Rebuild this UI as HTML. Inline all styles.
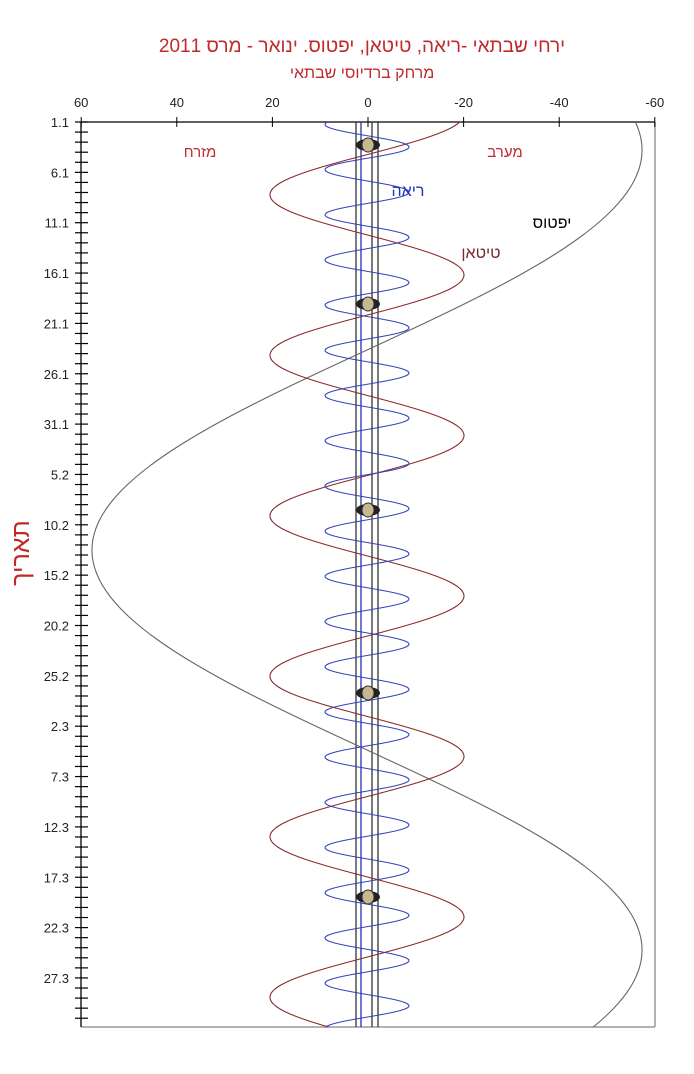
<!DOCTYPE html>
<html><head><meta charset="utf-8">
<style>
html,body{margin:0;padding:0;background:#fff;}
body{width:694px;height:1074px;position:relative;overflow:hidden;font-family:"Liberation Sans","DejaVu Sans",sans-serif;}
.t{position:absolute;left:0;width:724px;text-align:center;color:#c0282a;direction:rtl;}
</style></head>
<body>
<div class="t" style="top:36px;font-size:19px;">ירחי שבתאי -ריאה, טיטאן, יפטוס. ינואר - מרס 2011</div>
<div class="t" style="top:65px;font-size:16px;">מרחק ברדיוסי שבתאי</div>
<svg id="s" width="694" height="1074" style="position:absolute;left:0;top:0" xmlns="http://www.w3.org/2000/svg" font-family="Liberation Sans, DejaVu Sans, sans-serif">
</svg>
<script>
(function(){
var s=document.getElementById('s'),h='';
var L=81,R=655,T=122,B=1027,C=368,PX=4.78,DY=10.07;
// frame
h+='<line x1="'+R+'" y1="'+T+'" x2="'+R+'" y2="'+B+'" stroke="#999" stroke-width="1.5"/>';
h+='<line x1="'+L+'" y1="'+B+'" x2="'+R+'" y2="'+B+'" stroke="#999" stroke-width="1.5"/>';
h+='<line x1="'+L+'" y1="'+T+'" x2="'+R+'" y2="'+T+'" stroke="#000" stroke-width="1.3"/>';
h+='<line x1="'+L+'" y1="'+T+'" x2="'+L+'" y2="'+B+'" stroke="#000" stroke-width="1.3"/>';
// top ticks
var xv=[60,40,20,0,-20,-40,-60];
xv.forEach(function(v){var x=C-v*PX;
 h+='<line x1="'+x+'" y1="'+(T-5)+'" x2="'+x+'" y2="'+(T+5)+'" stroke="#000"/>';
 h+='<text x="'+x+'" y="'+(T-15)+'" font-size="13" text-anchor="middle" fill="#222">'+v+'</text>';});
// left ticks
for(var d=0;d<=89;d++){var y=T+d*DY;if(y>B)break;
 h+='<line x1="75" y1="'+y+'" x2="88" y2="'+y+'" stroke="#000" stroke-width="1.2"/>';}
var lab=['1.1','6.1','11.1','16.1','21.1','26.1','31.1','5.2','10.2','15.2','20.2','25.2','2.3','7.3','12.3','17.3','22.3','27.3'];
lab.forEach(function(t,i){var y=T+i*5*DY;
 h+='<text x="69" y="'+(y+5)+'" font-size="13" text-anchor="end" fill="#222">'+t+'</text>';});
// vertical lines
[[356,'#333'],[361,'#2233aa'],[372,'#333'],[378,'#333']].forEach(function(a){
 h+='<line x1="'+a[0]+'" y1="'+T+'" x2="'+a[0]+'" y2="'+B+'" stroke="'+a[1]+'" stroke-width="1.3"/>';});
function curve(f,col,w){var p='';for(var y=T;y<=B;y+=1){p+=(y==T?'M':'L')+f(y).toFixed(1)+' '+y;}
 return '<path d="'+p+'" fill="none" stroke="'+col+'" stroke-width="'+w+'"/>';}
h+=curve(function(y){return 367+275*Math.cos(2*Math.PI*(y-150)/800);},'#666',1.1);
h+=curve(function(y){return 367+97*Math.cos(2*Math.PI*(y-275)/160.5);},'#8b2a2a',1.1);
h+=curve(function(y){return 367+42*Math.cos(2*Math.PI*(y-147)/45.2);},'#3344bb',1.1);
// saturn icons
[145,304,510,693,897].forEach(function(y){
 h+='<ellipse cx="368" cy="'+y+'" rx="12" ry="6" fill="#222"/>';
 h+='<ellipse cx="368" cy="'+y+'" rx="6" ry="7" fill="#c8b890" stroke="#333" stroke-width="1"/>';});
// labels
h+='<text x="200" y="157" font-size="15" text-anchor="middle" fill="#c0282a">מזרח</text>';
h+='<text x="505" y="157" font-size="15" text-anchor="middle" fill="#c0282a">מערב</text>';
h+='<text x="408" y="196" font-size="16" text-anchor="middle" fill="#2233bb">ריאה</text>';
h+='<text x="552" y="228" font-size="16" text-anchor="middle" fill="#000">יפטוס</text>';
h+='<text x="481" y="258" font-size="16" text-anchor="middle" fill="#7a2a2a">טיטאן</text>';
h+='<text x="0" y="0" font-size="25" text-anchor="middle" fill="#c0282a" transform="translate(29,553) rotate(-90)">תאריך</text>';
s.innerHTML=h;
})();
</script>
</body></html>
